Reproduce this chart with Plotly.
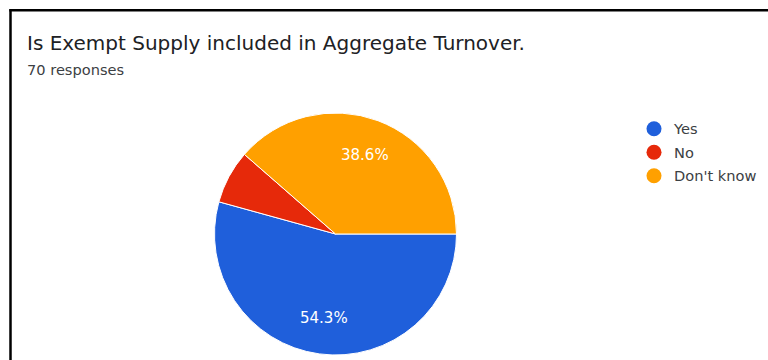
import math
import plotly.graph_objects as go

# Survey answers
labels = ["Yes", "No", "Don't know"]
counts = [38, 5, 27]
colors = ["#1f5fdb", "#e6290a", "#ffa000"]
# Percent labels are only printed on the larger slices
show_label = [True, False, True]

title_text = "Is Exempt Supply included in Aggregate Turnover."
subtitle_text = "70 responses"

W, H = 768, 360
FONT = "DejaVu Sans"

# Pie geometry in pixels
CX, CY, R = 335.5, 234, 121
LABEL_RADIUS = 0.70


def px_x(v):
    return v / W


def px_y(v):
    return 1 - v / H


fig = go.Figure()

fig.add_trace(go.Pie(
    labels=labels,
    values=counts,
    sort=False,
    direction="clockwise",
    rotation=90,
    marker=dict(colors=colors, line=dict(color="white", width=1)),
    textinfo="none",
    showlegend=False,
    hoverinfo="label+percent",
    domain=dict(x=[px_x(CX - R), px_x(CX + R)],
                y=[px_y(CY + R), px_y(CY - R)]),
))

# Percent labels placed on each slice's bisector (slices start at 3 o'clock, clockwise)
total = sum(counts)
annotations = []
cum = 0
for c, s in zip(counts, show_label):
    frac = c / total
    mid = (cum + frac / 2) * 2 * math.pi
    cum += frac
    if not s:
        continue
    lx = CX + LABEL_RADIUS * R * math.cos(mid)
    ly = CY + LABEL_RADIUS * R * math.sin(mid)
    annotations.append(dict(
        text=f"{frac * 100:.1f}%", x=px_x(lx), y=px_y(ly),
        xref="paper", yref="paper", xanchor="center", yanchor="middle",
        showarrow=False, font=dict(family=FONT, size=15, color="white"),
    ))

# Legend entries drawn with round markers
for i, (lab, col) in enumerate(zip(labels, colors)):
    fig.add_trace(go.Scatter(
        x=[None], y=[None], mode="markers", name=lab,
        legendgroup=f"g{i}",
        marker=dict(symbol="circle", size=15, color=col),
        showlegend=True,
    ))

annotations += [
    dict(text=title_text, x=px_x(25), y=px_y(42.5), xref="paper", yref="paper",
         xanchor="left", yanchor="middle", showarrow=False,
         font=dict(family=FONT, size=20, color="#202124")),
    dict(text=subtitle_text, x=px_x(25), y=px_y(69), xref="paper", yref="paper",
         xanchor="left", yanchor="middle", showarrow=False,
         font=dict(family=FONT, size=14.6, color="#3c4043")),
]

fig.update_layout(
    width=W, height=H,
    margin=dict(l=0, r=0, t=0, b=0),
    paper_bgcolor="white",
    plot_bgcolor="white",
    xaxis=dict(visible=False),
    yaxis=dict(visible=False),
    font=dict(family=FONT),
    legend=dict(
        x=px_x(634), y=px_y(112.8), xanchor="left", yanchor="top",
        font=dict(family=FONT, size=14.6, color="#3c4043"),
        tracegroupgap=1.5,
        bgcolor="rgba(0,0,0,0)",
    ),
    annotations=annotations,
    shapes=[
        dict(type="line", xref="paper", yref="paper",
             x0=px_x(10.5), x1=px_x(10.5), y0=0, y1=px_y(9.3),
             line=dict(color="black", width=2.5)),
        dict(type="line", xref="paper", yref="paper",
             x0=px_x(9.3), x1=1, y0=px_y(10.3), y1=px_y(10.3),
             line=dict(color="black", width=2.5)),
    ],
)

fig.write_html("out.html")
